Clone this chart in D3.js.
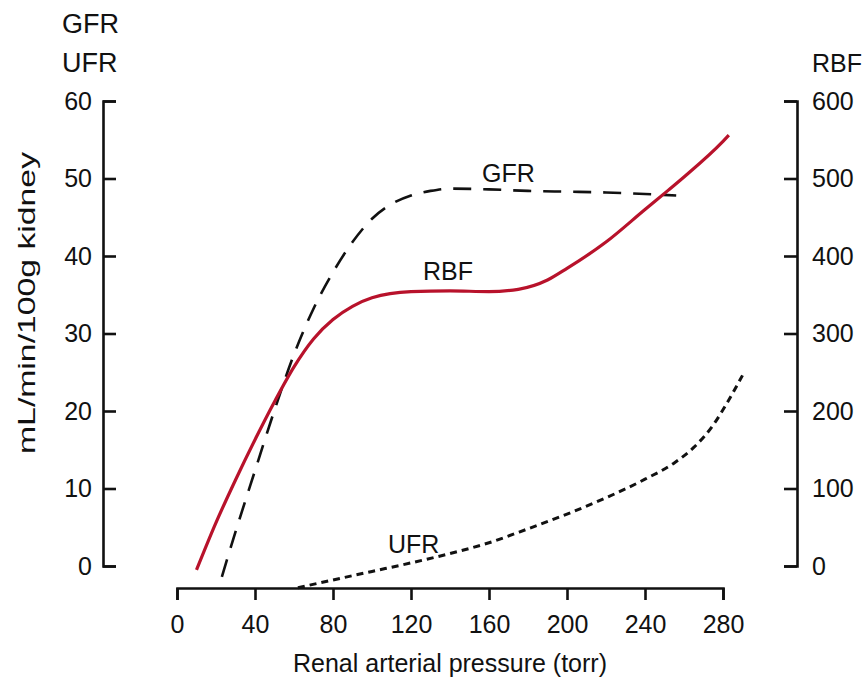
<!DOCTYPE html>
<html>
<head>
<meta charset="utf-8">
<script src="https://cdn.jsdelivr.net/npm/d3@7"></script>
<style>
  body { margin: 0; background: #fff; }
  text { font-family: "Liberation Sans", Arial, sans-serif; fill: #111; }
</style>
</head>
<body>
<div id="container"></div>
<script>
// Pressure values (torr) and the three curves
var rbfPressure = [10, 20, 30, 40, 50, 60, 70, 80, 90, 100, 120, 140, 160, 175, 190, 200, 220, 240, 252, 260, 280, 283];
var rbfValues   = [-5, 56, 111, 163, 212, 257, 293, 318, 335, 346, 354, 355, 354, 357, 369, 384, 418, 460, 485, 502, 548, 556];

var gfrPressure = [23, 30, 40, 50, 60, 70, 80, 90, 100, 110, 120, 130, 140, 160, 180, 200, 220, 240, 256];
var gfrValues   = [-1.4, 4.4, 12.3, 20.1, 27.3, 33.2, 37.9, 41.8, 44.8, 46.7, 47.8, 48.4, 48.7, 48.6, 48.4, 48.3, 48.2, 48.0, 47.8];

var ufrPressure = [62, 80, 100, 120, 140, 160, 180, 200, 220, 240, 255, 265, 275, 282, 290];
var ufrValues   = [-2.8, -1.8, -0.7, 0.4, 1.6, 3.0, 4.8, 6.7, 8.8, 11.2, 13.3, 15.3, 18.2, 21.0, 24.6];

// Tick values for the three axes
var xTicks = [0, 40, 80, 120, 160, 200, 240, 280];
var leftTicks = [0, 10, 20, 30, 40, 50, 60];
var rightTicks = [0, 100, 200, 300, 400, 500, 600];

// Dimensions
var width = 864;
var height = 689;
var plot = {left: 177, right: 723, top: 101, bottom: 566};
var leftAxisX = 103;
var rightAxisX = 797;
var xAxisY = 588;

var svg = d3.select("#container")
            .append("svg")
            .attr("width", width)
            .attr("height", height)

// Scales
var xScale = d3.scaleLinear().domain([0, 280]).range([plot.left, plot.right]);
var yLeft = d3.scaleLinear().domain([0, 60]).range([plot.bottom, plot.top]);
var yRight = d3.scaleLinear().domain([0, 600]).range([plot.bottom, plot.top]);

// Axes (ticks on the y axes point inward)
var xAxis = d3.axisBottom(xScale).tickValues(xTicks).tickSize(12).tickPadding(15);
var leftAxis = d3.axisLeft(yLeft).tickValues(leftTicks).tickSize(-13).tickPadding(11);
var rightAxis = d3.axisRight(yRight).tickValues(rightTicks).tickSize(-13).tickPadding(15);

function styleAxis(g) {
  g.selectAll("path, line").attr("stroke", "#111").attr("stroke-width", 2.6);
  g.selectAll("text").attr("font-size", 25).attr("fill", "#111")
   .style("font-family", "'Liberation Sans', Arial, sans-serif");
}

svg.append("g")
   .attr("transform", "translate(0," + xAxisY + ")")
   .call(xAxis)
   .call(styleAxis);

svg.append("g")
   .attr("transform", "translate(" + leftAxisX + ",0)")
   .call(leftAxis)
   .call(styleAxis);

svg.append("g")
   .attr("transform", "translate(" + rightAxisX + ",0)")
   .call(rightAxis)
   .call(styleAxis);

// Lines
var rbfLine = d3.line()
                .x((d, i) => xScale(rbfPressure[i]))
                .y((d) => yRight(d))
                .curve(d3.curveMonotoneX);

var leftLine = (xs) => d3.line()
                .x((d, i) => xScale(xs[i]))
                .y((d) => yLeft(d))
                .curve(d3.curveMonotoneX);

svg.append("path")
   .attr("d", leftLine(gfrPressure)(gfrValues))
   .attr("fill", "none")
   .attr("stroke", "#111")
   .attr("stroke-width", 2.6)
   .attr("stroke-dasharray", "18,12");

svg.append("path")
   .attr("d", leftLine(ufrPressure)(ufrValues))
   .attr("fill", "none")
   .attr("stroke", "#111")
   .attr("stroke-width", 3)
   .attr("stroke-dasharray", "7,5");

svg.append("path")
   .attr("d", rbfLine(rbfValues))
   .attr("fill", "none")
   .attr("stroke", "#b8122b")
   .attr("stroke-width", 3.2);

// Curve labels
svg.append("text").attr("x", 482).attr("y", 182).attr("font-size", 25).text("GFR");
svg.append("text").attr("x", 423).attr("y", 280).attr("font-size", 25).text("RBF");
svg.append("text").attr("x", 388).attr("y", 553).attr("font-size", 25).text("UFR");

// Axis headers
svg.append("text").attr("x", 62).attr("y", 33).attr("font-size", 27).text("GFR");
svg.append("text").attr("x", 62).attr("y", 72).attr("font-size", 27).text("UFR");
svg.append("text").attr("x", 812).attr("y", 72).attr("font-size", 25).text("RBF");

// Axis titles
svg.append("text")
   .attr("x", (plot.left + plot.right) / 2)
   .attr("y", 672)
   .attr("text-anchor", "middle")
   .attr("font-size", 25)
   .text("Renal arterial pressure (torr)");

svg.append("text")
   .attr("transform", "translate(35,303) rotate(-90)")
   .attr("text-anchor", "middle")
   .attr("font-size", 24)
   .attr("textLength", 302)
   .attr("lengthAdjust", "spacingAndGlyphs")
   .text("mL/min/100g kidney");
</script>
</body>
</html>
